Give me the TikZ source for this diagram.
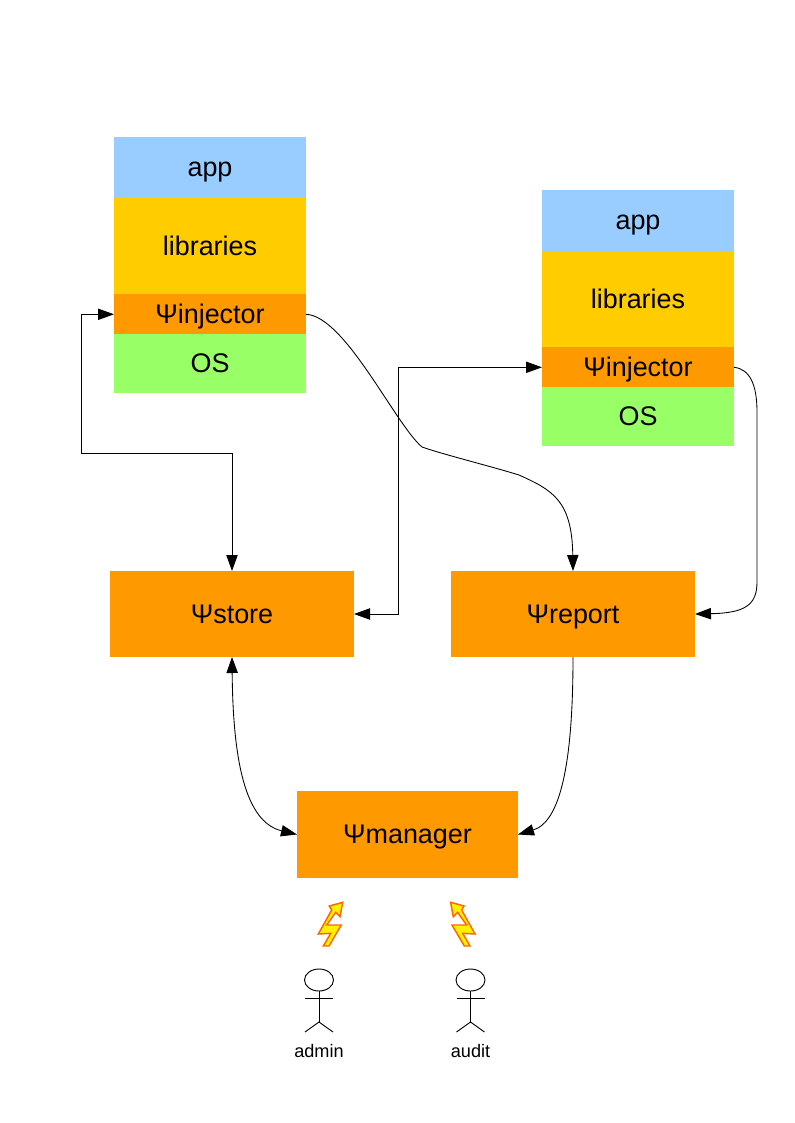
\documentclass[tikz,border=0pt]{standalone}
\usepackage{fontspec}
\setmainfont{Liberation Sans}
\usetikzlibrary{arrows.meta}
\definecolor{appblue}{HTML}{99CCFF}
\definecolor{libgold}{HTML}{FFCC00}
\definecolor{psiorange}{HTML}{FF9900}
\definecolor{osgreen}{HTML}{99FF66}
\definecolor{boltedge}{HTML}{FF6600}
\tikzset{
  blockbox/.style={inner sep=0pt,outer sep=0pt,text height=14pt,text depth=0.5pt,align=center,font=\fontsize{20.2}{24}\selectfont},
  stackbox/.style={blockbox,minimum width=144pt},
  appbox/.style={stackbox,fill=appblue,minimum height=45.75pt},
  libbox/.style={stackbox,fill=libgold,minimum height=72pt},
  injbox/.style={stackbox,fill=psiorange,minimum height=30pt},
  osbox/.style={stackbox,fill=osgreen,minimum height=44.25pt},
  svcbox/.style={blockbox,fill=psiorange,minimum width=183pt,minimum height=64.5pt},
  mgrbox/.style={blockbox,fill=psiorange,minimum width=165.75pt,minimum height=65.25pt},
  conn/.style={draw=black,line width=0.65pt,>={Triangle[length=12pt,width=8.5pt]}},
  bolt/.style={fill=yellow,draw=boltedge,line width=1.1pt,line join=miter},
  stick/.style={draw=black,line width=0.7pt},
  actorname/.style={inner sep=0pt,font=\fontsize{13.6}{16}\selectfont}
}
\begin{document}
\begin{tikzpicture}[x=0.75pt,y=-0.75pt]
\useasboundingbox (0,0) rectangle (794,1123);
% left stack
\node[appbox] (appA) at (210,167.8) {app};
\node[libbox] (libA) at (210,246.3) {libraries};
\node[injbox] (injA) at (210,314.3) {Ψinjector};
\node[osbox] (osA) at (210,363.8) {OS};
% right stack
\node[appbox] (appB) at (638,220.8) {app};
\node[libbox] (libB) at (638,299.3) {libraries};
\node[injbox] (injB) at (638,367.3) {Ψinjector};
\node[osbox] (osB) at (638,416.8) {OS};
% services
\node[svcbox] (store) at (232,614) {Ψstore};
\node[svcbox] (report) at (573,614) {Ψreport};
\node[mgrbox] (manager) at (407.5,834.5) {Ψmanager};
% way points
\coordinate (ca) at (232,453);
\coordinate (cb) at (81,453);
\coordinate (cc) at (81,314.3);
\coordinate (cd) at (398,614);
\coordinate (ce) at (398,367.3);
\coordinate (cf) at (422,447);
\coordinate (cg) at (519,475);
\coordinate (ch) at (757,412);
\coordinate (ci) at (757,582);
% connectors
\draw[conn,<->] (store.north) -- (ca) -- (cb) -- (cc) -- (injA.west);
\draw[conn,<->] (store.east) -- (cd) -- (ce) -- (injB.west);
\draw[conn,->] (injA.east) .. controls (345,316) and (395,424) .. (cf) .. controls (445,455) and (490,466) .. (cg) .. controls (552,490) and (572,500) .. (report.north);
\draw[conn,->] (injB.east) .. controls (750,369) and (757,385) .. (ch) -- (ci) .. controls (757,605) and (745,613) .. (report.east);
\draw[conn,<->] (store.south) .. controls (233,760) and (245,822) .. (manager.west);
\draw[conn,->] (report.south) .. controls (573,765) and (560,822) .. (manager.east);
% lightning bolts
\draw[bolt] (342.7,902.3) -- (340,916.7) -- (335.7,912.3) -- (326.7,925) -- (341.3,925) -- (329,946) -- (323.3,946) -- (330.7,933.3) -- (318.3,934) -- (331.7,910) -- (329.3,906) -- cycle;
\draw[bolt] (450.6,902.3) -- (453.3,916.7) -- (457.6,912.3) -- (466.6,925) -- (452,925) -- (464.3,946) -- (470,946) -- (462.6,933.3) -- (475,934) -- (461.6,910) -- (464,906) -- cycle;
% actors
\draw[stick] (319,980) ellipse [x radius=14.5,y radius=11];
\draw[stick] (319,991) -- (319,1022);
\draw[stick] (305,998) -- (333,998);
\draw[stick] (305,1032) -- (319,1022) -- (333,1032);
\node[actorname] (admin) at (319,1051) {admin};
\draw[stick] (470.5,980) ellipse [x radius=14.5,y radius=11];
\draw[stick] (470.5,991) -- (470.5,1022);
\draw[stick] (456.5,998) -- (484.5,998);
\draw[stick] (456.5,1032) -- (470.5,1022) -- (484.5,1032);
\node[actorname] (audit) at (470.5,1051) {audit};
\end{tikzpicture}
\end{document}
